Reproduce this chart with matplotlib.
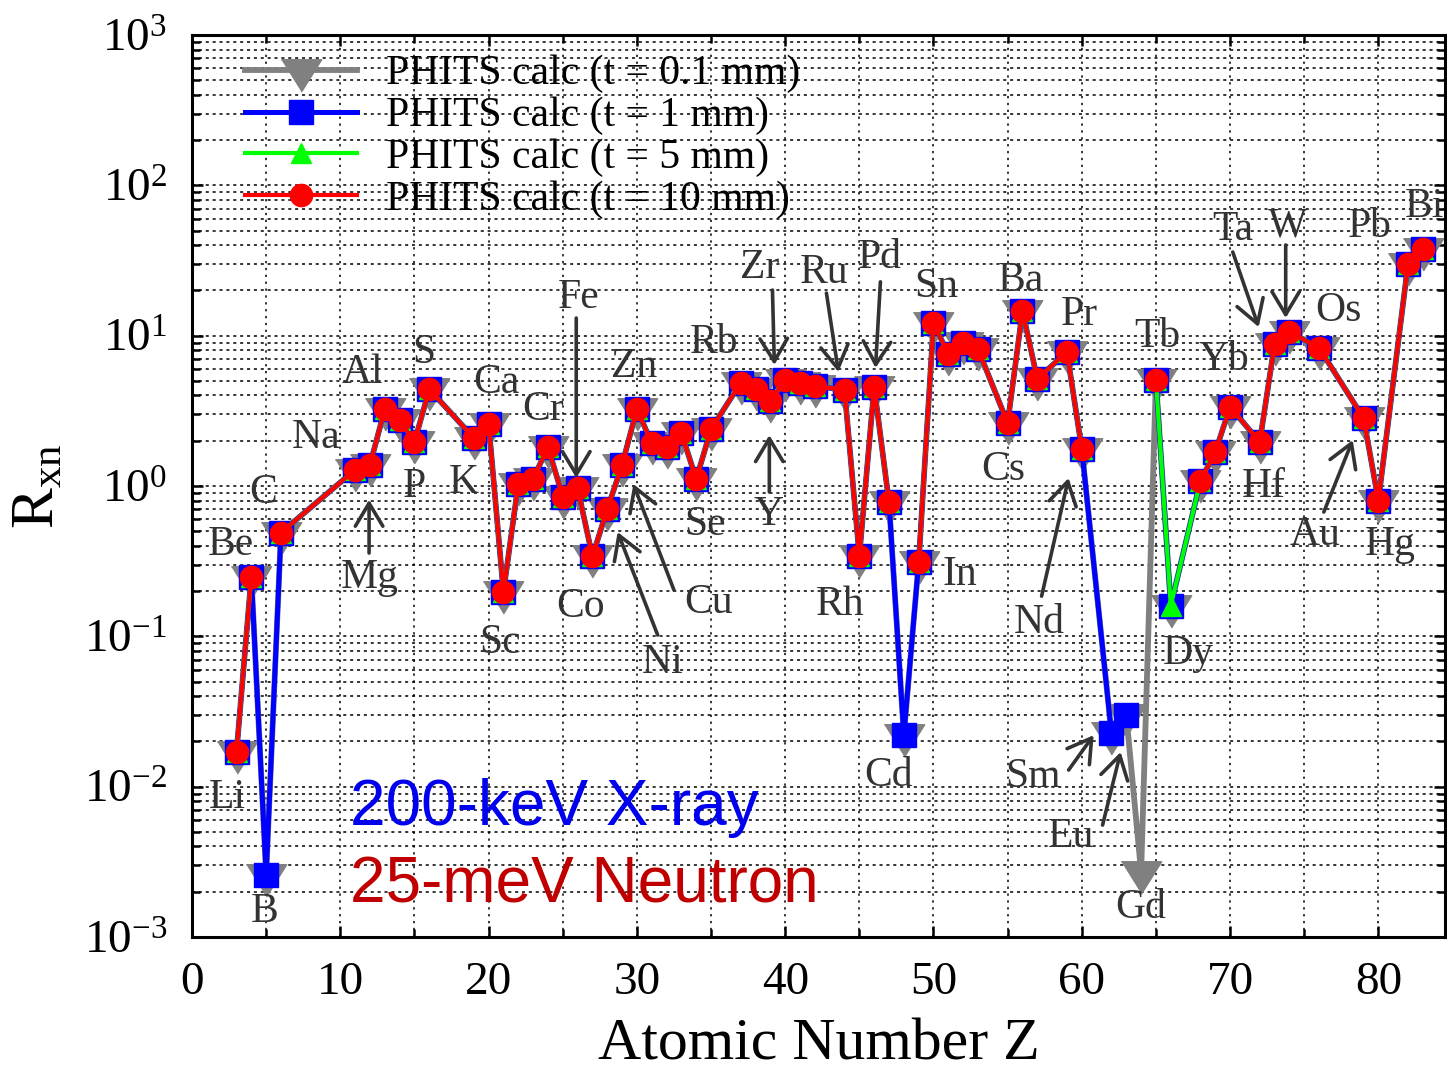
import matplotlib
matplotlib.use("Agg")
import matplotlib.pyplot as plt
import numpy as np
from matplotlib.ticker import LogLocator, MultipleLocator, LogFormatterMathtext, NullFormatter

plt.rcParams['font.family'] = ['Liberation Serif', 'DejaVu Serif']
plt.rcParams['mathtext.fontset'] = 'custom'
plt.rcParams['mathtext.rm'] = 'Liberation Serif'
plt.rcParams['mathtext.it'] = 'Liberation Serif:italic'
plt.rcParams['mathtext.bf'] = 'Liberation Serif:bold'

# atomic numbers of the calculated elements
z = [3, 4, 5, 6, 11, 12, 13, 14, 15, 16, 19, 20, 21, 22, 23, 24, 25, 26, 27, 28,
     29, 30, 31, 32, 33, 34, 35, 37, 38, 39, 40, 41, 42, 44, 45, 46, 47, 48, 49, 50,
     51, 52, 53, 55, 56, 57, 59, 60, 62, 63, 64, 65, 66, 68, 69, 70, 72, 73, 74, 76,
     79, 80, 82, 83]

# R_xn (thicknesses overlap where all are shown)
r_xn = [0.017, 0.25, 0.0026, 0.49, 1.28, 1.38, 3.25, 2.75, 1.96, 4.4, 2.09, 2.6, 0.197, 1.03, 1.11, 1.82, 0.85, 0.97, 0.34, 0.70,
        1.38, 3.25, 1.93, 1.82, 2.25, 1.11, 2.39, 4.85, 4.42, 3.68, 5.07, 4.85, 4.63, 4.35, 0.342, 4.56, 0.78, 0.022, 0.31, 12.1,
        7.55, 8.9, 8.15, 2.62, 14.6, 5.15, 7.8, 1.76, 0.0227, 0.030, 0.0027, 5.07, 0.16, 1.08, 1.68, 3.36, 1.96, 8.8, 10.6, 8.3,
        2.83, 0.8, 30.0, 37.8]

# elements with no value for the given thickness
missing_1mm = [64]
missing_5mm = [5, 48, 62, 63, 64]
missing_10mm = [5, 48, 62, 63, 64, 66]

def series(missing):
    return np.array([np.nan if zz in missing else v for zz, v in zip(z, r_xn)])

r_01mm = series([])
r_1mm = series(missing_1mm)
r_5mm = series(missing_5mm)
r_10mm = series(missing_10mm)

# element labels (name, Z position, R position)
labels = [('Li', 2.4, 0.0085), ('Be', 2.6, 0.405), ('B', 4.9, 0.00147), ('C', 4.8, 0.90),
          ('Na', 8.4, 2.09), ('Mg', 12.0, 0.244), ('Al', 11.5, 5.65), ('S', 15.6, 7.67),
          ('P', 15.0, 0.985), ('K', 18.3, 1.05), ('Ca', 20.5, 4.84), ('Cr', 23.7, 3.2),
          ('Fe', 26.1, 17.8), ('Co', 26.2, 0.157), ('Sc', 20.8, 0.090), ('Zn', 29.8, 6.19),
          ('Cu', 34.8, 0.167), ('Ni', 31.7, 0.0664), ('Se', 34.6, 0.55), ('Rb', 35.2, 8.94),
          ('Zr', 38.3, 28.2), ('Ru', 42.6, 26.1), ('Pd', 46.4, 32.9), ('Y', 38.9, 0.641),
          ('Rh', 43.7, 0.1615), ('Cd', 47.0, 0.0119), ('In', 51.8, 0.256), ('Sn', 50.2, 21.1),
          ('Ba', 55.9, 23.1), ('Cs', 54.7, 1.28), ('Pr', 59.8, 13.7), ('Nd', 57.1, 0.1226),
          ('Sm', 56.7, 0.0116), ('Eu', 59.3, 0.00462), ('Gd', 64.0, 0.00156), ('Tb', 65.1, 9.8),
          ('Dy', 67.2, 0.0762), ('Yb', 69.6, 6.89), ('Hf', 72.3, 0.985), ('Ta', 70.2, 50.5),
          ('W', 73.9, 53.7), ('Os', 77.3, 14.6), ('Au', 75.7, 0.472), ('Hg', 80.8, 0.405),
          ('Pb', 79.4, 52.9), ('Bi', 83.1, 71.8)]

# pointer arrows (tail, head)
arrows = [((11.94, 0.358), (11.94, 0.81)), ((25.91, 13.1), (25.91, 1.13)),
          ((32.5, 0.203), (29.76, 1.03)), ((31.4, 0.102), (28.7, 0.494)),
          ((39.14, 20.1), (39.27, 6.38)), ((42.78, 19.2), (43.59, 5.73)),
          ((46.42, 22.8), (46.09, 6.1)), ((38.93, 0.912), (38.93, 2.18)),
          ((57.29, 0.185), (59.11, 1.13)), ((59.11, 0.0129), (60.8, 0.022)),
          ((61.4, 0.00555), (62.62, 0.017)), ((70.18, 36.0), (71.93, 11.4)),
          ((73.75, 40.1), (73.75, 13.1)), ((76.32, 0.671), (78.27, 2.02))]

fig = plt.figure(figsize=(14.47, 10.70), dpi=100)
ax = fig.add_axes([0.1327, 0.1243, 0.8660, 0.843])

tri_down = [(-1, 0.533), (1, 0.533), (0, -1.067)]
ax.plot(z, r_01mm, color='#808080', lw=4.2, marker=tri_down, ms=31, mec='#808080',
        label='PHITS calc (t = 0.1 mm)', zorder=3)
ax.plot(z, r_1mm, color='#0000ff', lw=3.6, marker='s', ms=17, mec='#0000ff',
        label='PHITS calc (t = 1 mm)', zorder=4)
ax.plot(z, r_5mm, color='#00ff00', lw=3.0, marker='^', ms=15, mec='#00ff00',
        label='PHITS calc (t = 5 mm)', zorder=5)
ax.plot(z, r_10mm, color='#ff0000', lw=3.0, marker='o', ms=16, mec='#ff0000',
        label='PHITS calc (t = 10 mm)', zorder=6)

for name, lx, ly in labels:
    ax.text(lx, ly, name, fontsize=30, color='#333333', ha='center', va='center', zorder=7)
for tail, head in arrows:
    ax.annotate('', xy=head, xytext=tail, zorder=7,
                arrowprops=dict(arrowstyle='->,head_length=0.55,head_width=0.33',
                                color='#333333', lw=2.6, mutation_scale=30,
                                shrinkA=0, shrinkB=0))

ax.text(10.66, 0.00556, '200-keV X-ray', fontsize=46, family='Liberation Sans',
        color='#0000ee', va='baseline', zorder=7)
ax.text(10.66, 0.0017, '25-meV Neutron', fontsize=46, family='Liberation Sans',
        color='#c00000', va='baseline', zorder=7)

ax.set_yscale('log')
ax.set_xlim(0, 84.5)
ax.set_ylim(1e-3, 1e3)
ax.xaxis.set_major_locator(MultipleLocator(10))
ax.xaxis.set_minor_locator(MultipleLocator(5))
ax.yaxis.set_major_locator(LogLocator(base=10, numticks=10))
ax.yaxis.set_minor_locator(LogLocator(base=10, subs=np.arange(2, 10), numticks=20))
ax.yaxis.set_major_formatter(LogFormatterMathtext())
ax.yaxis.set_minor_formatter(NullFormatter())

ax.grid(True, which='both', axis='y', color='black', lw=1.1, ls=(0, (2, 2.5)))
ax.grid(True, which='both', axis='x', color='black', lw=1.1, ls=(0, (1.5, 3)))
ax.set_axisbelow(True)

ax.tick_params(which='both', direction='in', top=True, right=True, width=1.8)
ax.tick_params(which='major', length=8, labelsize=34, pad=18)
ax.tick_params(which='minor', length=6)
for s in ax.spines.values():
    s.set_linewidth(2.2)

ax.set_xlabel('Atomic Number Z', fontsize=43, labelpad=10)
ax.set_ylabel(r'R$_{\rm xn}$', fontsize=44, labelpad=12)

leg = ax.legend(loc='upper left', bbox_to_anchor=(0.042, 0.978), frameon=False,
                fontsize=30, handlelength=2.7, handletextpad=0.7,
                labelspacing=0.08, borderaxespad=0, borderpad=0)

fig.savefig('out.png', dpi=100)
